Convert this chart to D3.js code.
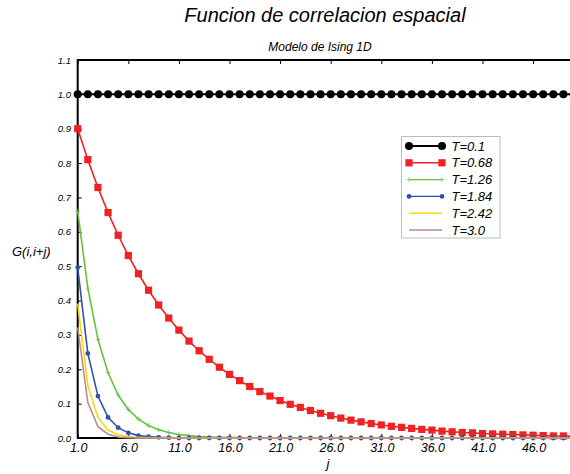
<!DOCTYPE html>
<html>
<head>
<meta charset="utf-8">
<script src="https://cdn.jsdelivr.net/npm/d3@7"></script>
<style>
  body { margin: 0; background: #fff; }
  text { font-family: "Liberation Sans", Arial, sans-serif; font-style: italic; }
</style>
</head>
<body>
<div id="root"></div>
<script>
const width = 570
const height = 474
const margin = { top: 60, left: 77.7, bottom: 36 }

const jValues = [1,2,3,4,5,6,7,8,9,10,11,12,13,14,15,16,17,18,19,20,21,22,23,24,25,
  26,27,28,29,30,31,32,33,34,35,36,37,38,39,40,41,42,43,44,45,46,47,48,49,50]

const gT010 = [1,1,1,1,1,1,1,1,1,1,1,1,1,1,1,1,1,1,1,1,1,1,1,1,1,
  1,1,1,1,1,1,1,1,1,1,1,1,1,1,1,1,1,1,1,1,1,1,1,1,1]
const gT068 = [0.900,0.810,0.729,0.656,0.590,0.531,0.478,0.430,0.387,0.349,0.314,0.282,0.254,0.229,0.206,
  0.185,0.167,0.150,0.135,0.122,0.109,0.098,0.089,0.080,0.072,0.065,0.058,0.052,0.047,0.042,
  0.038,0.034,0.031,0.028,0.025,0.023,0.020,0.018,0.016,0.015,0.013,0.012,0.011,0.010,0.009,
  0.008,0.007,0.006,0.006,0.005]
const gT126 = [0.660,0.436,0.287,0.190,0.125,0.083,0.055,0.036,0.024,0.016,0.010,0.007,0.004,0.003,0.002,
  0.001,0.001,0,0,0,0,0,0,0,0,0,0,0,0,0,0,0,0,0,0,0,0,0,0,0,0,0,0,0,0,0,0,0,0,0]
const gT184 = [0.496,0.246,0.122,0.060,0.030,0.015,0.007,0.004,0.002,0.001,0,0,0,0,0,
  0,0,0,0,0,0,0,0,0,0,0,0,0,0,0,0,0,0,0,0,0,0,0,0,0,0,0,0,0,0,0,0,0,0,0]
const gT242 = [0.391,0.153,0.060,0.023,0.009,0.004,0.001,0.001,0,0,0,0,0,0,0,
  0,0,0,0,0,0,0,0,0,0,0,0,0,0,0,0,0,0,0,0,0,0,0,0,0,0,0,0,0,0,0,0,0,0,0]
const gT300 = [0.322,0.103,0.033,0.011,0.003,0.001,0,0,0,0,0,0,0,0,0,
  0,0,0,0,0,0,0,0,0,0,0,0,0,0,0,0,0,0,0,0,0,0,0,0,0,0,0,0,0,0,0,0,0,0,0]

const seriesNames = ['T=0.1', 'T=0.68', 'T=1.26', 'T=1.84', 'T=2.42', 'T=3.0']
const seriesValues = [gT010, gT068, gT126, gT184, gT242, gT300]
const seriesColors = ['#000000', '#ee2222', '#66c040', '#3050b0', '#f2dc10', '#c08c88']
const seriesMarkers = ['circle', 'square', 'plus', 'dot', 'none', 'none']

const xTicks = [1, 6, 11, 16, 21, 26, 31, 36, 41, 46]
const yTicks = [0, 0.1, 0.2, 0.3, 0.4, 0.5, 0.6, 0.7, 0.8, 0.9, 1.0, 1.1]

const svg = d3.select('#root').append('svg')
  .attr('width', width)
  .attr('height', height)

const x = d3.scaleLinear().domain([1, 50]).range([margin.left, margin.left + 49 * 10.12])
const y = d3.scaleLinear().domain([0, 1.1]).range([height - margin.bottom, margin.top])

svg.append('text')
  .attr('x', 325).attr('y', 22)
  .attr('text-anchor', 'middle')
  .attr('font-size', 20)
  .text('Funcion de correlacion espacial')

svg.append('text')
  .attr('x', 320).attr('y', 51)
  .attr('text-anchor', 'middle')
  .attr('font-size', 12)
  .text('Modelo de Ising 1D')

// axes
const yAxis = svg.append('g')
  .attr('transform', 'translate(' + margin.left + ',0)')
  .call(d3.axisRight(y).tickValues(yTicks).tickSize(4).tickFormat(''))
yAxis.select('.domain').remove()

svg.append('g')
  .selectAll('text')
  .data(yTicks)
  .enter()
  .append('text')
  .attr('x', 71)
  .attr('y', d => y(d) + 3.5)
  .attr('text-anchor', 'end')
  .attr('font-size', 9.5)
  .text(d => d.toFixed(1))

const xBottom = svg.append('g')
  .attr('transform', 'translate(0,' + y(0) + ')')
  .call(d3.axisTop(x).tickValues(xTicks).tickSize(4).tickFormat(''))
xBottom.select('.domain').remove()

const xTop = svg.append('g')
  .attr('transform', 'translate(0,' + y(1.1) + ')')
  .call(d3.axisBottom(x).tickValues(xTicks).tickSize(4).tickFormat(''))
xTop.select('.domain').remove()

svg.append('g')
  .selectAll('text')
  .data(xTicks)
  .enter()
  .append('text')
  .attr('x', d => x(d) + 1)
  .attr('y', 452)
  .attr('text-anchor', 'middle')
  .attr('font-size', 12.5)
  .text(d => d.toFixed(1))

svg.append('path')
  .attr('d', 'M' + width + ',' + y(1.1) + 'H' + x(1) + 'V' + y(0) + 'H' + width)
  .attr('fill', 'none')
  .attr('stroke', '#000')
  .attr('stroke-width', 2)

svg.append('text')
  .attr('x', 12).attr('y', 256)
  .attr('font-size', 13)
  .text('G(i,i+j)')

svg.append('text')
  .attr('x', 328).attr('y', 468)
  .attr('text-anchor', 'middle')
  .attr('font-size', 13)
  .text('j')

// series
const line = d3.line().x((d, i) => x(jValues[i])).y(d => y(d))

function drawMarker(g, kind, color, cx, cy) {
  if (kind === 'circle') {
    g.append('circle').attr('cx', cx).attr('cy', cy).attr('r', 4).attr('fill', color)
  } else if (kind === 'square') {
    g.append('rect').attr('x', cx - 3.6).attr('y', cy - 3.6).attr('width', 7.2).attr('height', 7.2).attr('fill', color)
  } else if (kind === 'plus') {
    g.append('path').attr('d', 'M' + (cx - 2.5) + ',' + cy + 'h5M' + cx + ',' + (cy - 2.5) + 'v5')
      .attr('stroke', color).attr('stroke-width', 1).attr('opacity', 0.7)
  } else if (kind === 'dot') {
    g.append('circle').attr('cx', cx).attr('cy', cy).attr('r', 2.4).attr('fill', color)
  }
}

seriesValues.forEach((vals, k) => {
  const g = svg.append('g')
  g.append('path')
    .datum(vals)
    .attr('d', line)
    .attr('fill', 'none')
    .attr('stroke', seriesColors[k])
    .attr('stroke-width', k === 0 ? 2 : 1.6)
  vals.forEach((v, i) => drawMarker(g, seriesMarkers[k], seriesColors[k], x(jValues[i]), y(v)))
})

// legend
const legend = svg.append('g')
legend.append('rect')
  .attr('x', 401.5).attr('y', 136.5)
  .attr('width', 98.5).attr('height', 101.5)
  .attr('fill', '#fff')
  .attr('stroke', '#bbbbbb')

seriesNames.forEach((name, k) => {
  const ly = 146 + k * 16.8
  legend.append('line')
    .attr('x1', 409).attr('x2', 442)
    .attr('y1', ly).attr('y2', ly)
    .attr('stroke', seriesColors[k])
    .attr('stroke-width', k === 0 ? 2 : 1.4)
  drawMarker(legend, seriesMarkers[k], seriesColors[k], 409, ly)
  drawMarker(legend, seriesMarkers[k], seriesColors[k], 442, ly)
  legend.append('text')
    .attr('x', 451.5).attr('y', ly + 4.5)
    .attr('font-size', 13)
    .text(name)
})
</script>
</body>
</html>
